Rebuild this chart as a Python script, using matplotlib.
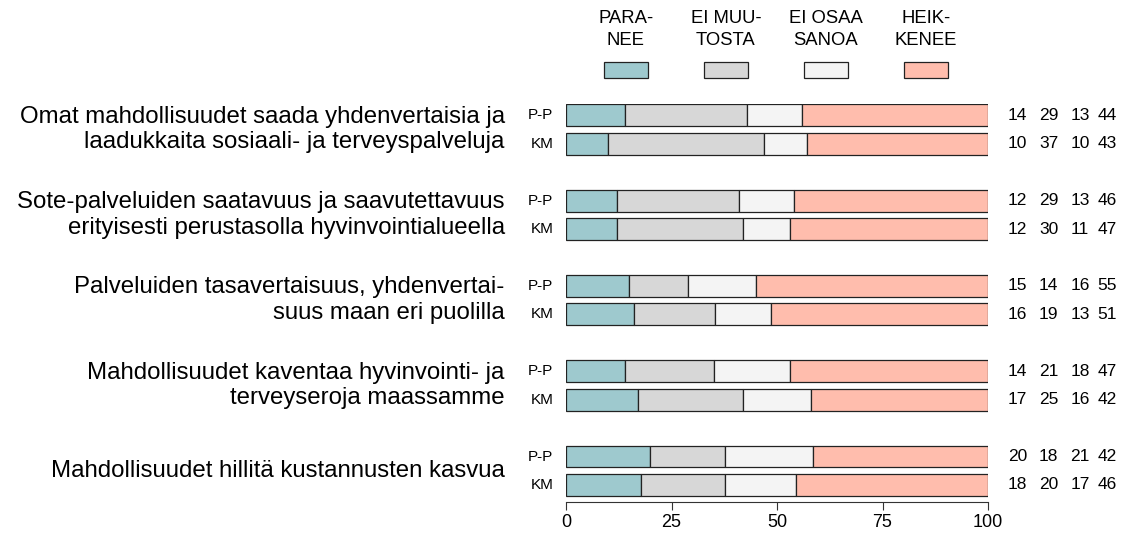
import numpy as np
import matplotlib.pyplot as plt
from matplotlib.patches import Rectangle

plt.rcParams['font.family'] = ['Liberation Sans', 'DejaVu Sans']

# Data
categories = [
    "Omat mahdollisuudet saada yhdenvertaisia ja\nlaadukkaita sosiaali- ja terveyspalveluja",
    "Sote-palveluiden saatavuus ja saavutettavuus\nerityisesti perustasolla hyvinvointialueella",
    "Palveluiden tasavertaisuus, yhdenvertai-\nsuus maan eri puolilla",
    "Mahdollisuudet kaventaa hyvinvointi- ja\nterveyseroja maassamme",
    "Mahdollisuudet hillitä kustannusten kasvua",
]
groups = ["P-P", "KM"]
legend_labels = ["PARA-\nNEE", "EI MUU-\nTOSTA", "EI OSAA\nSANOA", "HEIK-\nKENEE"]
colors = ["#9ec9ce", "#d7d7d7", "#f4f4f4", "#ffbdad"]

# rows: P-P, KM for each category; columns: paranee, ei muutosta, ei osaa sanoa, heikkenee
pp_values = [
    [14, 29, 13, 44],
    [12, 29, 13, 46],
    [15, 14, 16, 55],
    [14, 21, 18, 47],
    [20, 18, 21, 42],
]
km_values = [
    [10, 37, 10, 43],
    [12, 30, 11, 47],
    [16, 19, 13, 51],
    [17, 25, 16, 42],
    [18, 20, 17, 46],
]

fig = plt.figure(figsize=(11.27, 5.33), dpi=100)
ax = fig.add_axes([566 / 1127, 1 - 502 / 533, (988 - 566) / 1127, (502 - 104) / 533])

bar_h = 0.77
num_x = [104.7, 112.1, 119.5, 126.0]
for g in range(len(categories)):
    for k, vals in enumerate([pp_values[g], km_values[g]]):
        y = g * 3 + k
        v = np.array(vals, dtype=float)
        v = v / v.sum() * 100
        left = 0.0
        for s in range(4):
            ax.barh(y, v[s], left=left, height=bar_h, color=colors[s],
                    edgecolor="#222222", linewidth=0.9)
            left += v[s]
        ax.text(-3.0, y, groups[k], ha="right", va="center", fontsize=11)
        for s in range(4):
            ax.text(num_x[s], y, str(vals[s]), ha="left", va="center",
                    fontsize=12.5, clip_on=False)
    ax.text(-14.5, g * 3 + 0.5, categories[g], ha="right", va="center",
            fontsize=17.3, linespacing=1.2)

ax.set_xlim(0, 100)
ax.set_ylim(13.6, -0.4)
ax.set_xticks([0, 25, 50, 75, 100])
ax.set_yticks([])
for sp in ["top", "right", "left"]:
    ax.spines[sp].set_visible(False)
ax.spines["bottom"].set_color("#333333")
ax.spines["bottom"].set_bounds(0, 100)
ax.tick_params(axis="x", length=6, color="#333333", labelsize=13, pad=2.5)

# Legend above the bars
for i, lab in enumerate(legend_labels):
    cx = 14.2 + i * 23.7
    ax.add_patch(Rectangle((cx - 5.2, -1.877), 10.4, 0.56, facecolor=colors[i],
                           edgecolor="#222222", linewidth=0.9, clip_on=False,
                           transform=ax.transData))
    ax.text(cx, -3.72, lab, ha="center", va="top", fontsize=13.3,
            linespacing=1.4, clip_on=False)

fig.savefig("out.png", dpi=100)
